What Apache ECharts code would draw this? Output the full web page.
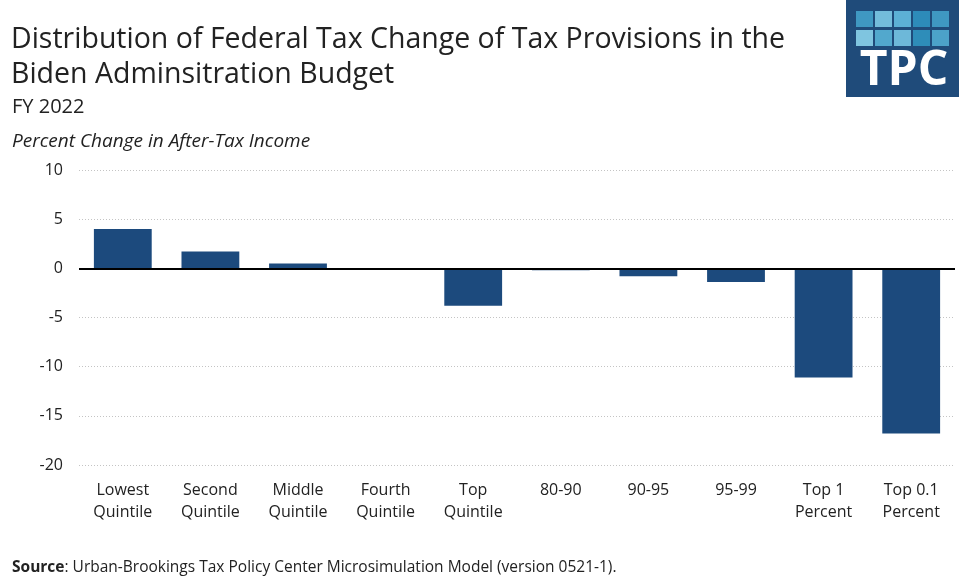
<!DOCTYPE html>
<html>
<head>
<meta charset="utf-8">
<script src="https://cdn.jsdelivr.net/npm/echarts@6/dist/echarts.min.js"></script>
<style>
html,body{margin:0;padding:0;background:#fff;}
#chart{width:959px;height:584px;}
</style>
</head>
<body>
<div id="chart"></div>
<script>
const categories = ['Lowest\nQuintile','Second\nQuintile','Middle\nQuintile','Fourth\nQuintile','Top\nQuintile','80-90','90-95','95-99','Top 1\nPercent','Top 0.1\nPercent'];
const values = [4.0, 1.7, 0.5, 0.0, -3.8, -0.2, -0.8, -1.4, -11.1, -16.8];
const yTicks = { min: -20, max: 10, interval: 5 };

const FONT = '"Open Sans", Lato, sans-serif';
const chart = echarts.init(document.getElementById('chart'), null, {renderer:'canvas'});

const logoSquares = [];
const sqCols = [856, 875, 894, 913, 932];
const sqRows = [11, 30];
const sqColors = [
  ['#3f98c2','#73bcdb','#5cb0d5','#2d8bb9','#3f98c2'],
  ['#7fc5e0','#52a8cd','#6db8d9','#2e8db9','#4ca2c9']
];
sqRows.forEach((y, r) => sqCols.forEach((x, c) => {
  logoSquares.push({type:'rect', shape:{x:x, y:y, width:17, height:16}, style:{fill:sqColors[r][c]}});
}));

chart.setOption({
  backgroundColor:'#fff',
  animation:false,
  textStyle:{fontFamily:FONT},
  grid:{left:79, right:4, top:170, bottom:119, containLabel:false},
  xAxis:{
    type:'category',
    data:categories,
    axisLine:{show:false, onZero:false},
    axisTick:{show:false},
    axisLabel:{fontSize:16, color:'#222', lineHeight:22, margin:14, interval:0, fontFamily:FONT}
  },
  yAxis:{
    type:'value',
    min:yTicks.min, max:yTicks.max, interval:yTicks.interval,
    axisLine:{show:false},
    axisTick:{show:false},
    axisLabel:{fontSize:16, color:'#222', margin:16, fontFamily:FONT},
    splitLine:{show:true, lineStyle:{color:'#c4c4c4', type:[1,2], width:1}}
  },
  series:[{
    type:'bar',
    data:values,
    barCategoryGap:'34%',
    itemStyle:{color:'#1c4a7d'},
    markLine:{
      silent:true, symbol:'none', label:{show:false},
      lineStyle:{color:'#000', width:2, type:'solid'},
      data:[{yAxis:0}]
    }
  }],
  graphic:[
    {type:'text', left:11, top:22, style:{text:'Distribution of Federal Tax Change of Tax Provisions in the\nBiden Adminsitration Budget', fontSize:28.5, lineHeight:35, fill:'#222', fontFamily:FONT}},
    {type:'text', left:12, top:97, style:{text:'FY 2022', fontSize:20, fill:'#222', fontFamily:FONT}},
    {type:'text', left:12, top:132, style:{text:'Percent Change in After-Tax Income', fontSize:19, fontStyle:'italic', fill:'#222', fontFamily:FONT}},
    {type:'text', left:12, top:560, style:{rich:{b:{fontWeight:'bold', fontSize:15.5, fill:'#222', fontFamily:FONT}, n:{fontSize:15.5, fill:'#222', fontFamily:FONT}}, text:'{b|Source}{n|: Urban-Brookings Tax Policy Center Microsimulation Model (version 0521-1).}'}},
    {type:'group', children:[
      {type:'rect', shape:{x:846, y:0, width:113, height:97}, style:{fill:'#1f4b7a'}},
      ...logoSquares,
      {type:'text', x:904, y:71, style:{text:'TPC', fontSize:48, fontWeight:'bold', fill:'#fff', align:'center', verticalAlign:'middle', fontFamily:'"Open Sans", sans-serif'}}
    ]}
  ]
});
</script>
</body>
</html>
